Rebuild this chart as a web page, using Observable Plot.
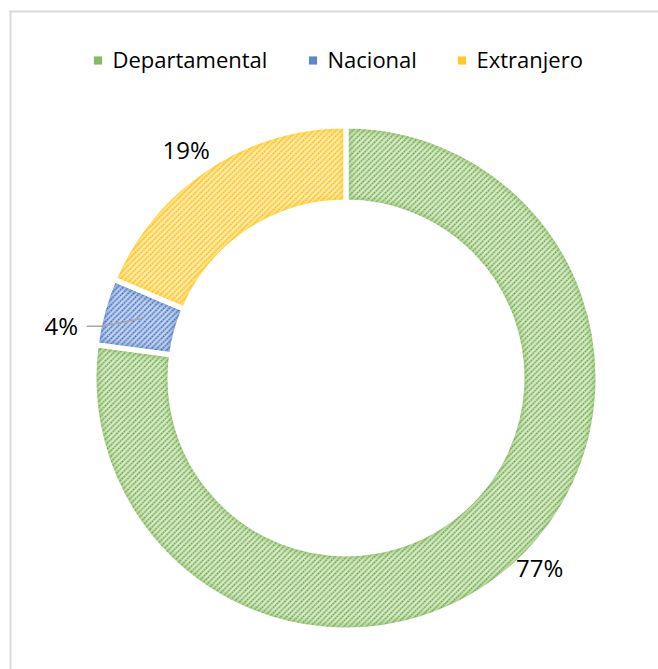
<!DOCTYPE html>
<html>
<head>
<meta charset="utf-8">
<script src="https://cdn.jsdelivr.net/npm/d3@7"></script>
<script src="https://cdn.jsdelivr.net/npm/@observablehq/plot@0.6"></script>
<style>
  html, body { margin: 0; padding: 0; background: #fff; }
  svg { display: block; }
</style>
</head>
<body>
<div id="chart"></div>
<script>
// ---- data ----
const categories = ["Departamental", "Nacional", "Extranjero"];
const shares = [77.1, 4.3, 18.6];
const shareLabels = ["77%", "4%", "19%"];
const mainColors = ["#70AD47", "#4472C4", "#FFC000"];
const tintColors = ["#DAEACE", "#C8D6EF", "#FFECB8"];

// ---- layout (pixels) ----
const W = 658, H = 669;
const cx = 346, cy = 378;
const rOuter = 252, rInner = 176;
const rLabel = 278;
const labelNudge = [[10, -18], [-17, 22], [-7, 5]];
const legendX = [97.5, 312.5, 461.5];
const legendY = 60;
const font = "Open Sans";

const pie = d3.pie().sort(null).value(d => d)(shares);
const slices = pie.map((p, i) => {
  const mid = (p.startAngle + p.endAngle) / 2;
  return {
    cat: categories[i], value: shares[i], label: shareLabels[i], i,
    start: p.startAngle, end: p.endAngle, mid,
    lx: cx + rLabel * Math.sin(mid) + labelNudge[i][0],
    ly: cy - rLabel * Math.cos(mid) + labelNudge[i][1]
  };
});

const legend = categories.map((c, i) => ({cat: c, i, x: legendX[i], y: legendY}));

// leader for the small slice (Nacional)
const nac = slices[1];
const leader = [
  {x: nac.lx + 26, y: nac.ly - 1},
  {x: nac.lx + 40, y: nac.ly - 1},
  {x: cx + 212 * Math.sin(nac.mid), y: cy - 212 * Math.cos(nac.mid) - 4}
];

function donutMark(index, scales) {
  const g = d3.create("svg:g");
  const defs = g.append("defs");
  const X = scales.x(cx), Y = scales.y(cy);
  const ro = scales.x(cx + rOuter) - X, ri = scales.x(cx + rInner) - X;
  const arc = d3.arc().innerRadius(ri).outerRadius(ro);
  defs.append("filter").attr("id", "soft")
    .attr("x", "-20%").attr("y", "-20%").attr("width", "140%").attr("height", "140%")
    .append("feGaussianBlur").attr("stdDeviation", 2.2);
  slices.forEach((s, i) => {
    const w = 5.6;
    const pat = defs.append("pattern")
      .attr("id", "hatch" + i)
      .attr("patternUnits", "userSpaceOnUse")
      .attr("width", w).attr("height", w);
    pat.append("rect").attr("width", w).attr("height", w).attr("fill", tintColors[i]);
    pat.append("path")
      .attr("d", `M0,${w} L${w},0 M${-w/2},${w/2} L${w/2},${-w/2} M${w/2},${w*1.5} L${w*1.5},${w/2}`)
      .attr("stroke", mainColors[i])
      .attr("stroke-width", 1.7)
      .attr("stroke-dasharray", "1.8 0.7");
    defs.append("clipPath").attr("id", "clip" + i)
      .append("path")
      .attr("transform", `translate(${X},${Y})`)
      .attr("d", arc({startAngle: s.start, endAngle: s.end}));
  });
  const grp = g.append("g").attr("transform", `translate(${X},${Y})`);
  grp.selectAll("path.sl").data(slices).join("path")
    .attr("class", "sl")
    .attr("d", s => arc({startAngle: s.start, endAngle: s.end}))
    .attr("fill", s => `url(#hatch${s.i})`);
  // soft darker glow along the slice edges
  slices.forEach(s => {
    g.append("g").attr("clip-path", `url(#clip${s.i})`)
      .append("path")
      .attr("transform", `translate(${X},${Y})`)
      .attr("d", arc({startAngle: s.start, endAngle: s.end}))
      .attr("fill", "none")
      .attr("stroke", mainColors[s.i])
      .attr("stroke-opacity", 0.4)
      .attr("stroke-width", 10)
      .attr("filter", "url(#soft)");
  });
  // white separators on top
  const gaps = g.append("g").attr("transform", `translate(${X},${Y})`);
  gaps.selectAll("path").data(slices).join("path")
    .attr("d", s => arc({startAngle: s.start, endAngle: s.end}))
    .attr("fill", "none")
    .attr("stroke", "#fff")
    .attr("stroke-width", 5)
    .attr("stroke-linejoin", "miter");
  return g.node();
}

const chart = Plot.plot({
  width: W, height: H,
  margin: 0,
  x: {domain: [0, W], axis: null},
  y: {domain: [H, 0], axis: null},
  style: {background: "#fff"},
  marks: [
    Plot.ruleY([11], {x1: 9, x2: W, stroke: "#D9D9D9", strokeWidth: 2}),
    Plot.ruleX([10], {y1: 11, y2: H, stroke: "#D9D9D9", strokeWidth: 2}),
    donutMark,
    Plot.line(leader, {x: "x", y: "y", stroke: "#A6A6A6", strokeWidth: 1.5}),
    Plot.text(slices, {x: "lx", y: "ly", text: "label", fontSize: 24, fontFamily: font, fill: "#000"}),
    Plot.dot(legend, {x: "x", y: "y", symbol: "square", r: 4.6, fill: d => mainColors[d.i], fillOpacity: 0.85, stroke: "none"}),
    Plot.text(legend, {x: d => d.x + 14.5, y: "y", text: "cat", textAnchor: "start", fontSize: 22, fontFamily: font, fill: "#000"})
  ]
});
document.getElementById("chart").appendChild(chart);
</script>
</body>
</html>
